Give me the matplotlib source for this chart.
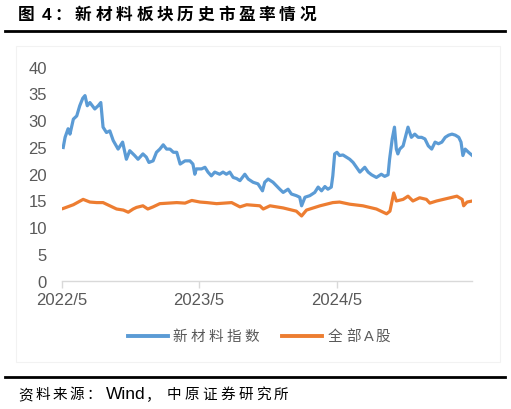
import matplotlib
matplotlib.use("Agg")
import matplotlib.pyplot as plt
from matplotlib.lines import Line2D
from matplotlib.patches import Rectangle
import pandas as pd

# ---------------- data ----------------
blue_dates = [
    "2022-05-05", "2022-05-10", "2022-05-18", "2022-05-23", "2022-06-01", "2022-06-10",
    "2022-06-18", "2022-06-26", "2022-07-02", "2022-07-08", "2022-07-15", "2022-07-28",
    "2022-08-06", "2022-08-13", "2022-08-19", "2022-08-28", "2022-09-06", "2022-09-15",
    "2022-09-28", "2022-10-10", "2022-10-20", "2022-10-29", "2022-11-11", "2022-11-20",
    "2022-12-03", "2022-12-12", "2022-12-19", "2022-12-30", "2023-01-08", "2023-01-17",
    "2023-01-26", "2023-02-04", "2023-02-13", "2023-02-22", "2023-03-03", "2023-03-12",
    "2023-03-25", "2023-04-07", "2023-04-15", "2023-04-20", "2023-04-24", "2023-05-08",
    "2023-05-17", "2023-05-25", "2023-06-03", "2023-06-12", "2023-06-25", "2023-07-04",
    "2023-07-13", "2023-07-22", "2023-07-31", "2023-08-09", "2023-08-18", "2023-08-31",
    "2023-09-09", "2023-09-22", "2023-10-05", "2023-10-17", "2023-10-23", "2023-11-01",
    "2023-11-14", "2023-12-02", "2023-12-11", "2023-12-24", "2024-01-02", "2024-01-15",
    "2024-01-24", "2024-01-29", "2024-02-07", "2024-02-20", "2024-03-04", "2024-03-13",
    "2024-03-22", "2024-03-31", "2024-04-08", "2024-04-17", "2024-04-21", "2024-04-26",
    "2024-05-02", "2024-05-09", "2024-05-18", "2024-05-27", "2024-06-05", "2024-06-14",
    "2024-06-23", "2024-07-02", "2024-07-15", "2024-07-24", "2024-08-02", "2024-08-15",
    "2024-08-28", "2024-09-06", "2024-09-15", "2024-09-19", "2024-09-26", "2024-10-02",
    "2024-10-07", "2024-10-11", "2024-10-16", "2024-10-25", "2024-11-01", "2024-11-07",
    "2024-11-16", "2024-11-25", "2024-12-04", "2024-12-13", "2024-12-22", "2024-12-31",
    "2025-01-09", "2025-01-18", "2025-01-27", "2025-02-05", "2025-02-14", "2025-02-23",
    "2025-03-04", "2025-03-13", "2025-03-22", "2025-03-28", "2025-04-02", "2025-04-08",
    "2025-04-17", "2025-04-27",
]
new_material_pe = [
    24.9, 26.8, 28.4, 27.4, 30.2, 30.8,
    32.7, 34.1, 34.6, 32.7, 33.3, 32.1,
    32.7, 33.3, 28.7, 27.7, 28.0, 26.2,
    24.6, 25.9, 22.7, 24.3, 23.4, 22.7,
    23.7, 23.1, 22.1, 22.4, 24.0, 24.6,
    25.4, 24.6, 24.6, 24.0, 24.0, 21.8,
    22.4, 22.4, 21.8, 19.9, 20.9, 20.9,
    21.2, 20.3, 19.6, 20.3, 19.9, 20.3,
    19.9, 20.3, 19.3, 19.1, 18.7, 19.9,
    19.0, 18.4, 18.1, 16.8, 18.4, 19.0,
    18.4, 17.1, 16.5, 17.1, 16.2, 15.9,
    15.6, 14.0, 15.6, 15.9, 16.5, 17.5,
    16.8, 17.6, 17.1, 17.5, 19.6, 23.7,
    24.0, 23.4, 23.5, 23.1, 22.7, 22.1,
    21.2, 20.3, 21.2, 20.3, 19.8, 19.3,
    19.9, 19.5, 19.8, 22.7, 26.5, 28.7,
    24.6, 23.7, 24.6, 25.2, 27.1, 28.7,
    26.8, 27.4, 26.8, 26.8, 26.5, 25.2,
    24.6, 25.9, 25.6, 25.9, 26.8, 27.2,
    27.4, 27.2, 26.8, 25.9, 23.4, 24.6,
    24.0, 23.4,
]

orange_dates = [
    "2022-05-05", "2022-06-01", "2022-06-27", "2022-07-15", "2022-08-02", "2022-08-19",
    "2022-09-06", "2022-09-24", "2022-10-12", "2022-10-25", "2022-11-07", "2022-11-16",
    "2022-12-03", "2022-12-16", "2022-12-30", "2023-01-17", "2023-03-03", "2023-03-25",
    "2023-04-12", "2023-05-04", "2023-05-22", "2023-06-17", "2023-07-27", "2023-08-18",
    "2023-09-05", "2023-10-10", "2023-10-19", "2023-11-06", "2023-12-11", "2024-01-15",
    "2024-01-29", "2024-02-11", "2024-03-18", "2024-04-21", "2024-05-09", "2024-06-05",
    "2024-07-10", "2024-08-15", "2024-09-11", "2024-09-20", "2024-09-30", "2024-10-07",
    "2024-10-25", "2024-11-07", "2024-11-20", "2024-12-08", "2024-12-26", "2025-01-04",
    "2025-01-22", "2025-02-09", "2025-02-27", "2025-03-17", "2025-03-31", "2025-04-04",
    "2025-04-13", "2025-04-27",
]
all_a_pe = [
    13.5, 14.2, 15.2, 14.7, 14.6, 14.6,
    14.0, 13.4, 13.2, 12.8, 13.4, 13.7,
    14.0, 13.4, 13.8, 14.4, 14.6, 14.5,
    15.0, 14.7, 14.6, 14.4, 14.6, 13.8,
    14.2, 14.0, 13.4, 14.0, 13.6, 13.0,
    12.1, 13.2, 14.0, 14.6, 14.7, 14.3,
    14.0, 13.4, 12.5, 13.0, 16.4, 14.9,
    15.2, 15.8, 14.9, 15.5, 15.2, 14.5,
    14.9, 15.2, 15.5, 15.8, 15.2, 14.0,
    14.7, 14.9,
]

series_names = ["新材料指数", "全部A股"]
x_ticks = ["2022-05-01", "2023-05-01", "2024-05-01"]
x_tick_labels = ["2022/5", "2023/5", "2024/5"]
y_ticks = [0, 5, 10, 15, 20, 25, 30, 35, 40]

title_label = "图 4："
title_body = "新材料板块历史市盈率情况"
source_label = "资料来源："
source_vendor = "Wind"
source_org = "中原证券研究所"

# ---------------- figure ----------------
W, H = 511, 410
fig = plt.figure(figsize=(W / 100, H / 100), dpi=100)
fig.patch.set_facecolor("white")

LAT = ["Liberation Sans", "Noto Sans CJK SC", "DejaVu Sans"]
CJK = ["Noto Sans CJK SC", "Liberation Sans", "DejaVu Sans"]

BLUE = "#5B9BD5"
ORANGE = "#ED7D31"
GRAY = "#595959"


def put(x, y, s, fam, size, color, weight="normal"):
    fig.text(x / W, 1 - y / H, s, family=fam, fontsize=size, fontweight=weight,
             color=color, va="center", ha="left")


def spaced(x0, y, chars, pitch, size, color, weight="normal", narrow=0.6):
    """Place characters one by one; ASCII characters advance by a narrower pitch."""
    x = x0
    for ch in chars:
        is_lat = ord(ch) < 128
        put(x, y, ch, LAT if is_lat else CJK, size, color, weight)
        x += pitch * (narrow if is_lat else 1.0)


# chart-area faint border
fig.add_artist(Rectangle((16 / W, 1 - 363 / H), (500 - 16) / W, (363 - 47) / H,
                         transform=fig.transFigure, fill=False,
                         edgecolor="#F2F2F2", linewidth=0.8))

# title
put(18, 15, title_label[0], CJK, 12, "black", "bold")
put(42, 15, title_label[2], LAT, 12.5, "black", "bold")
put(54, 15, title_label[3], CJK, 12, "black", "bold")
spaced(75, 15, title_body, 20.4, 12, "black", "bold")

# rules
fig.add_artist(Line2D([5 / W, 505 / W], [1 - 31.5 / H, 1 - 31.5 / H],
                      transform=fig.transFigure, color="black", linewidth=2.0))
fig.add_artist(Line2D([5 / W, 505 / W], [1 - 378 / H, 1 - 378 / H],
                      transform=fig.transFigure, color="black", linewidth=2.0))

# source
spaced(18, 395, source_label, 17.2, 10.5, "black")
put(106, 395, source_vendor, LAT, 12.5, "black")
put(146, 395, "，", CJK, 10.5, "black")
spaced(167, 395, source_org, 17.8, 10.5, "black")

# axes
left, right = 61.7 / W, 472.3 / W
bottom, top = 1 - 281.7 / H, 1 - 67.7 / H
ax = fig.add_axes([left, bottom, right - left, top - bottom])

bd = pd.to_datetime(blue_dates)
od = pd.to_datetime(orange_dates)
ax.plot(bd, new_material_pe, color=BLUE, linewidth=2.3, label=series_names[0],
        solid_joinstyle="round")
ax.plot(od, all_a_pe, color=ORANGE, linewidth=2.3, label=series_names[1],
        solid_joinstyle="round")

ax.set_ylim(0, 40)
ax.set_xlim(pd.Timestamp("2022-05-01"), pd.Timestamp("2025-04-27"))
ax.set_yticks(y_ticks)
ax.set_yticklabels([str(v) for v in y_ticks], family=LAT, fontsize=12, color=GRAY)
ax.set_xticks(pd.to_datetime(x_ticks))
ax.set_xticklabels(x_tick_labels, family=LAT, fontsize=12, color=GRAY)

for s in ["top", "right", "left"]:
    ax.spines[s].set_visible(False)
ax.spines["bottom"].set_color("#D9D9D9")
ax.spines["bottom"].set_linewidth(1.0)
ax.tick_params(axis="y", length=0, pad=10.5)
ax.tick_params(axis="x", length=5, width=1.0, color="#D9D9D9", pad=3)
ax.grid(False)

# legend (manual, to reproduce the wide letter spacing of the original)
leg_y = 337.3
handles = [(127.7, 167.7, BLUE, 172.5), (282.3, 322.3, ORANGE, 328.0)]
for (hx0, hx1, col, tx), name in zip(handles, series_names):
    fig.add_artist(Line2D([hx0 / W, hx1 / W], [1 - leg_y / H, 1 - leg_y / H],
                          transform=fig.transFigure, color=col, linewidth=2.8))
    spaced(tx, leg_y, name, 18.0, 10.5, GRAY, narrow=0.62)

fig.savefig("out.png", dpi=100, facecolor="white")
